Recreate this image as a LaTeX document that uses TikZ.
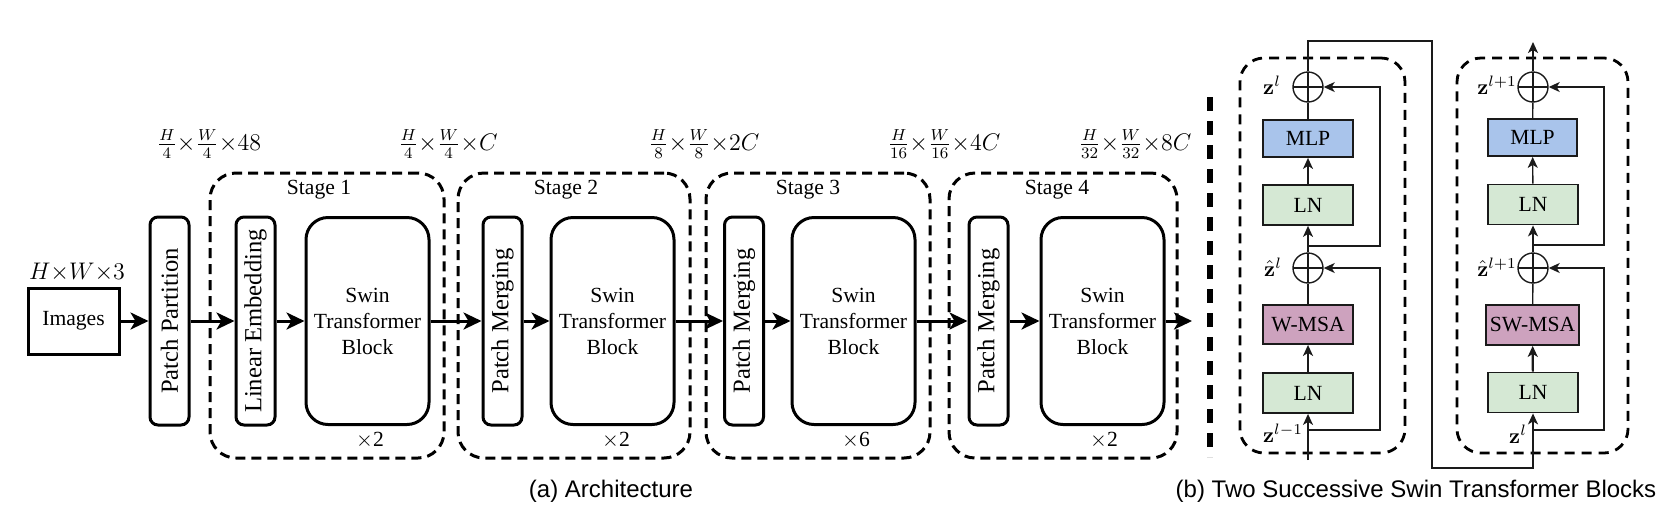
\RequirePackage{fix-cm}
\documentclass[tikz,border=0pt]{standalone}
\usepackage[no-math]{fontspec}
\setmainfont{Liberation Serif}
\newfontfamily\capfont{Liberation Sans}
\usepackage{graphicx}
\usetikzlibrary{arrows.meta,calc}
\definecolor{mlpc}{HTML}{A9C4EB}
\definecolor{lnc}{HTML}{D5E8D4}
\definecolor{msac}{HTML}{CDA2BE}
\definecolor{edgec}{HTML}{1A1A1A}
\newcommand{\tms}{{\times}}
\begin{document}
\begin{tikzpicture}[x=0.5pt,y=-0.5pt,
  font=\fontsize{10.8}{13}\selectfont,
  nbox/.style={draw, line width=1.5pt, rounded corners=4pt, minimum width=19.5pt, minimum height=104pt, inner sep=0pt, font=\fontsize{12.3}{14}\selectfont},
  swin/.style={draw, line width=1.5pt, rounded corners=11pt, minimum width=61.5pt, minimum height=103.5pt, align=center, inner sep=0pt},
  imgbox/.style={draw, line width=1.5pt, minimum width=45.5pt, minimum height=33pt, inner sep=0pt},
  stagebox/.style={draw, line width=1.5pt, dash pattern=on 5pt off 3pt, rounded corners=13pt, minimum height=142.5pt, inner sep=0pt},
  arr/.style={-{Stealth[length=9pt,width=8.5pt,inset=2.5pt]}, line width=1.5pt},
  dimlbl/.style={font=\fontsize{12}{14}\selectfont, inner sep=0pt},
  blk/.style={draw=edgec, line width=0.9pt, minimum width=45pt, minimum height=20pt, inner sep=0pt},
  sumc/.style={circle, draw=edgec, line width=0.7pt, minimum size=15pt, inner sep=0pt,
    path picture={\draw[line width=0.7pt, edgec] (path picture bounding box.north) -- (path picture bounding box.south) (path picture bounding box.west) -- (path picture bounding box.east);}},
  thinln/.style={line width=0.7pt, draw=edgec},
  arrb/.style={-{Stealth[length=5.5pt,width=5pt,inset=1.5pt]}, line width=0.7pt, draw=edgec},
  rdash/.style={draw, line width=1.4pt, dash pattern=on 5pt off 3.5pt, rounded corners=12pt, minimum height=197.5pt, inner sep=0pt},
  zlbl/.style={inner sep=0pt},
  caplbl/.style={font=\capfont\fontsize{12}{14}\selectfont, inner sep=0pt}
]
\useasboundingbox (0,0) rectangle (1666,516);

% stage boxes
\node[stagebox, minimum width=117pt] (st1) at (327,315.5) {};
\node[stagebox, minimum width=116pt] (st2) at (574,315.5) {};
\node[stagebox, minimum width=112pt] (st3) at (818,315.5) {};
\node[stagebox, minimum width=114pt] (st4) at (1063,315.5) {};

\node (sl1) at (319,190) {Stage 1};
\node (sl2) at (566,190) {Stage 2};
\node (sl3) at (808,190) {Stage 3};
\node (sl4) at (1057,190) {Stage 4};

\node (rp1) at (370,440) {$\times$2};
\node (rp2) at (616,440) {$\times$2};
\node (rp3) at (856,440) {$\times$6};
\node (rp4) at (1104,440) {$\times$2};

% dimension labels
\node[dimlbl] (d0) at (77,272) {$H\tms W\tms 3$};
\node[dimlbl] (d1) at (209,144) {$\frac{H}{4}\tms\frac{W}{4}\tms 48$};
\node[dimlbl] (d2) at (448,144) {$\frac{H}{4}\tms\frac{W}{4}\tms C$};
\node[dimlbl] (d3) at (704,144) {$\frac{H}{8}\tms\frac{W}{8}\tms 2C$};
\node[dimlbl] (d4) at (944,144) {$\frac{H}{16}\tms\frac{W}{16}\tms 4C$};
\node[dimlbl] (d5) at (1135,144) {$\frac{H}{32}\tms\frac{W}{32}\tms 8C$};

% blocks
\node[imgbox] (img) at (73.5,321) {Images};
\node[nbox] (pp) at (169.5,321) {\rotatebox{90}{Patch Partition}};
\node[nbox] (le) at (255.5,321) {\rotatebox{90}{Linear Embedding}};
\node[swin] (sw1) at (367.5,321) {Swin\\Transformer\\Block};
\node[nbox] (pm2) at (502.5,321) {\rotatebox{90}{Patch Merging}};
\node[swin] (sw2) at (612.5,321) {Swin\\Transformer\\Block};
\node[nbox] (pm3) at (744,321) {\rotatebox{90}{Patch Merging}};
\node[swin] (sw3) at (853.5,321) {Swin\\Transformer\\Block};
\node[nbox] (pm4) at (988.5,321) {\rotatebox{90}{Patch Merging}};
\node[swin] (sw4) at (1102.5,321) {Swin\\Transformer\\Block};
\coordinate (out) at (1192,321);

\draw[arr] (img) -- (pp);
\draw[arr] (pp) -- (le);
\draw[arr] (le) -- (sw1);
\draw[arr] (sw1) -- (pm2);
\draw[arr] (pm2) -- (sw2);
\draw[arr] (sw2) -- (pm3);
\draw[arr] (pm3) -- (sw3);
\draw[arr] (sw3) -- (pm4);
\draw[arr] (pm4) -- (sw4);
\draw[arr] (sw4) -- (out);

% separator
\draw[line width=2.6pt, dash pattern=on 7pt off 5pt] (1210,97) -- (1210,457);

% right panel dashed boxes
\node[rdash, minimum width=82.5pt] (bx1) at (1322.5,255.5) {};
\node[rdash, minimum width=85.5pt] (bx2) at (1542.5,255.5) {};

% left block
\node[sumc] (c1) at (1308,87) {};
\node[blk, fill=mlpc, minimum height=18.5pt] (mlp1) at (1308,138.5) {MLP};
\node[blk, fill=lnc] (ln2) at (1308,205) {LN};
\node[sumc] (c2) at (1308,268) {};
\node[blk, fill=msac, minimum height=19.5pt] (wmsa) at (1308,324.5) {W-MSA};
\node[blk, fill=lnc] (ln1) at (1308,393) {LN};

% right block
\node[sumc] (c3) at (1533,87) {};
\node[blk, fill=mlpc, minimum height=18.5pt, minimum width=44.5pt] (mlp2) at (1532.5,137.5) {MLP};
\node[blk, fill=lnc] (ln4) at (1533,204.5) {LN};
\node[sumc] (c4) at (1533,268) {};
\node[blk, fill=msac, minimum width=46.5pt] (swmsa) at (1532.5,325) {SW-MSA};
\node[blk, fill=lnc] (ln3) at (1533,392.5) {LN};

% labels
\node[zlbl] (lz1) at (1272,85) {$\mathbf{z}^l$};
\node[zlbl] (lzh1) at (1273,267) {$\hat{\mathbf{z}}^l$};
\node[zlbl] (lzi1) at (1283,433) {$\mathbf{z}^{l-1}$};
\node[zlbl] (lz2) at (1497,85) {$\mathbf{z}^{l+1}$};
\node[zlbl] (lzh2) at (1497,267) {$\hat{\mathbf{z}}^{l+1}$};
\node[zlbl] (lzi2) at (1518,434) {$\mathbf{z}^l$};

% coordinates
\coordinate (in1) at (1308,460);
\coordinate (b1) at (1308,430);
\coordinate (k1) at (1380,430);
\coordinate (b2) at (1308,246);
\coordinate (k2) at (1380,246);
\coordinate (top1) at (1308,41);
\coordinate (t2) at (1432,41);
\coordinate (t3) at (1432,468);
\coordinate (t4) at (1533,468);
\coordinate (b3) at (1533,430);
\coordinate (k3) at (1604,430);
\coordinate (b4) at (1533,245);
\coordinate (k4) at (1604,245);
\coordinate (outR) at (1533,42);

% left block connectors
\draw[arrb] (in1) -- (ln1);
\draw[arrb, line width=1.1pt] (ln1) -- (wmsa);
\draw[thinln] (wmsa) -- (c2);
\draw[arrb] (c2) -- (ln2);
\draw[arrb] (ln2) -- (mlp1);
\draw[thinln] (mlp1) -- (c1);
\draw[arrb] (b1) -- (k1) |- (c2);
\draw[arrb] (b2) -- (k2) |- (c1);
\draw[arrb] (c1) -- (top1) -- (t2) -- (t3) -- (t4) -- (ln3);

% right block connectors
\draw[arrb, line width=1.1pt] (ln3) -- (swmsa);
\draw[thinln] (swmsa) -- (c4);
\draw[arrb] (c4) -- (ln4);
\draw[arrb] (ln4) -- (mlp2);
\draw[thinln] (mlp2) -- (c3);
\draw[arrb] (c3) -- (outR);
\draw[arrb] (b3) -- (k3) |- (c4);
\draw[arrb] (b4) -- (k4) |- (c3);

% captions
\node[caplbl] (capa) at (611,491) {(a) Architecture};
\node[caplbl] (capb) at (1416,491) {(b) Two Successive Swin Transformer Blocks};
\end{tikzpicture}
\end{document}
